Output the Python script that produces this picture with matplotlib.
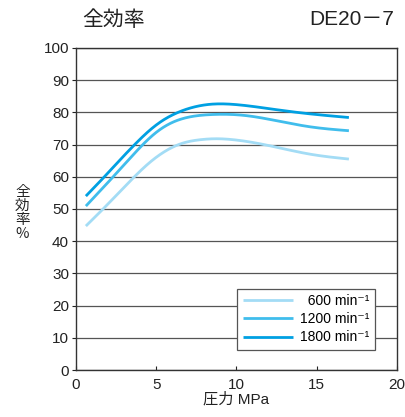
import matplotlib
matplotlib.use("Agg")
import matplotlib.pyplot as plt
import numpy as np

FAM = ['Liberation Sans', 'Noto Sans CJK JP', 'DejaVu Sans']
plt.rcParams['font.family'] = FAM

title_left = "全効率"
title_right = "DE20－7"
xlabel = "圧力 MPa"
ylabel = "全\n効\n率\n%"

x1800 = [0.62, 1.81, 2.74, 3.68, 4.61, 5.44, 6.27, 7.31, 8.35, 10.0, 12.1, 14.1, 17.0]
y1800 = [54.0, 60.2, 65.2, 70.1, 74.5, 77.6, 79.8, 81.6, 82.5, 82.4, 81.1, 79.8, 78.4]
x1200 = [0.62, 2.32, 3.16, 4.09, 5.03, 6.06, 7.10, 8.35, 10.4, 12.5, 14.6, 17.0]
y1200 = [50.9, 60.0, 64.6, 69.6, 73.9, 77.0, 78.6, 79.3, 79.1, 77.4, 75.5, 74.3]
x600 = [0.62, 1.81, 2.74, 3.68, 4.61, 5.65, 6.69, 7.73, 8.6, 10.0, 12.1, 14.6, 17.0]
y600 = [44.7, 50.6, 55.4, 60.2, 64.5, 68.2, 70.5, 71.5, 71.8, 71.4, 69.6, 67.0, 65.5]
labels = ["\u2007600 min⁻¹", "1200 min⁻¹", "1800 min⁻¹"]
colors = ["#a3dcf5", "#40bdec", "#00a0e2"]


def spline(x, y, n=300):
    """Natural cubic spline through the read points."""
    x = np.asarray(x, float); y = np.asarray(y, float)
    m = len(x); h = np.diff(x)
    A = np.zeros((m, m)); b = np.zeros(m)
    A[0, 0] = A[-1, -1] = 1
    for i in range(1, m - 1):
        A[i, i - 1] = h[i - 1]; A[i, i] = 2 * (h[i - 1] + h[i]); A[i, i + 1] = h[i]
        b[i] = 3 * ((y[i + 1] - y[i]) / h[i] - (y[i] - y[i - 1]) / h[i - 1])
    c = np.linalg.solve(A, b)
    bb = (y[1:] - y[:-1]) / h - h * (2 * c[:-1] + c[1:]) / 3
    d = (c[1:] - c[:-1]) / (3 * h)
    xs = np.linspace(x[0], x[-1], n)
    idx = np.clip(np.searchsorted(x, xs) - 1, 0, m - 2)
    t = xs - x[idx]
    ys = y[idx] + bb[idx] * t + c[idx] * t ** 2 + d[idx] * t ** 3
    return xs, ys


fig = plt.figure(figsize=(4.06, 4.17), dpi=100)
ax = fig.add_axes([0.187, 0.1127, 0.791, 0.7723])

for (xx, yy), lab, c in zip([(x600, y600), (x1200, y1200), (x1800, y1800)], labels, colors):
    sx, sy = spline(xx, yy)
    ax.plot(sx, sy, color=c, lw=2.0, label=lab, solid_capstyle='butt')

ax.set_xlim(0, 20)
ax.set_ylim(0, 100)
ax.set_xticks([0, 5, 10, 15, 20])
ax.set_yticks(range(0, 101, 10))
ax.yaxis.grid(True, color="#555555", lw=0.9)
ax.set_axisbelow(True)
ax.tick_params(axis='x', direction='in', length=3, labelsize=11, colors='#222222', pad=6)
ax.tick_params(axis='y', direction='out', length=3, labelsize=11, colors='#222222', pad=2)
for s in ax.spines.values():
    s.set_color('#333333'); s.set_linewidth(1.0)

ax.set_xlabel(xlabel, fontsize=11, color='#222222', labelpad=0)
fig.text(0.055, 0.49, ylabel, fontsize=10.5, color='#222222', ha='center', va='center',
         linespacing=1.0, family=['Noto Sans CJK JP', 'DejaVu Sans'])

fig.text(0.203, 0.953, title_left, fontsize=15, color='#222222', ha='left', va='center',
         family=['Noto Sans CJK JP', 'DejaVu Sans'])
fig.text(0.970, 0.953, title_right, fontsize=15, color='#222222', ha='right', va='center')

leg = ax.legend(loc='lower right', bbox_to_anchor=(0.931, 0.062), fancybox=False,
                edgecolor='#555555', framealpha=1, fontsize=10, handlelength=3.6,
                borderpad=0.4, labelspacing=0.3, handletextpad=0.5, borderaxespad=0)
leg.get_frame().set_linewidth(0.9)

fig.savefig("out.png", dpi=100)
